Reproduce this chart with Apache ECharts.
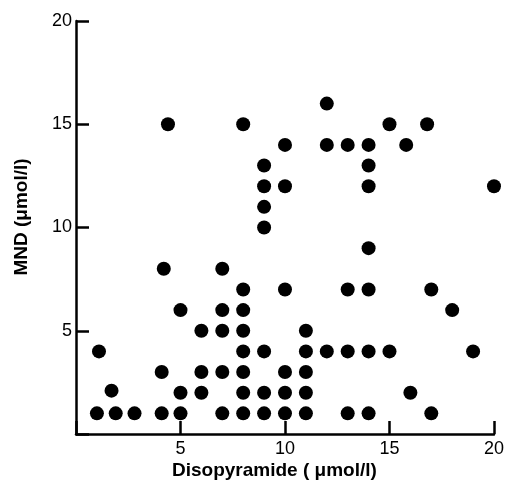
<!DOCTYPE html>
<html>
<head>
<meta charset="utf-8">
<script src="https://cdn.jsdelivr.net/npm/echarts@6/dist/echarts.min.js"></script>
<style>html,body{margin:0;padding:0;background:#fff}#c{width:507px;height:482px}</style>
</head>
<body>
<div id="c"></div>
<script>
// Disopyramide (x, µmol/l) values
const disopyramide = [4.4, 8, 12, 15, 16.8, 10, 12, 13, 14, 15.8, 9, 14, 9, 10, 14, 20, 9, 9, 14, 4.2, 7, 8, 10, 13, 14, 17, 5, 7, 8, 18, 6, 7, 8, 11, 1.1, 8, 9, 11, 12, 13, 14, 15, 19, 4.1, 6, 7, 8, 10, 11, 1.7, 5, 6, 8, 9, 10, 11, 16, 1, 1.9, 2.8, 4.1, 5, 7, 8, 9, 10, 11, 13, 14, 17];
// MND (y, µmol/l) values
const mnd = [15, 15, 16, 15, 15, 14, 14, 14, 14, 14, 13, 13, 12, 12, 12, 12, 11, 10, 9, 8, 8, 7, 7, 7, 7, 7, 6, 6, 6, 6, 5, 5, 5, 5, 4, 4, 4, 4, 4, 4, 4, 4, 4, 3, 3, 3, 3, 3, 3, 2.1, 2, 2, 2, 2, 2, 2, 2, 1, 1, 1, 1, 1, 1, 1, 1, 1, 1, 1, 1, 1];
const xTicks = [5, 10, 15, 20];
const yTicks = [5, 10, 15, 20];
const xTitle = 'Disopyramide ( \u03bcmol/l)';
const yTitle = 'MND (\u03bcmol/l)';

const points = disopyramide.map((x, i) => [x, mnd[i]]);
const chart = echarts.init(document.getElementById('c'));
const font = 'Liberation Sans, Arial, sans-serif';
const axisCommon = {
  type: 'value', min: 0, max: 20, interval: 5,
  splitLine: {show: false},
  axisLine: {show: true, onZero: false, lineStyle: {color: '#000', width: 2.5}},
  axisTick: {show: true, inside: true, length: 13, lineStyle: {color: '#000', width: 2.5}},
};
chart.setOption({
  animation: false,
  grid: {left: 76, right: 11, top: 21, bottom: 48},
  xAxis: Object.assign({}, axisCommon, {
    axisLabel: {color: '#000', fontFamily: font, fontSize: 18, margin: 6,
      formatter: v => xTicks.includes(v) ? String(v) : ''}
  }),
  yAxis: Object.assign({}, axisCommon, {
    axisLabel: {color: '#000', fontFamily: font, fontSize: 18, margin: 4,
      formatter: v => yTicks.includes(v) ? String(v) : ''}
  }),
  graphic: [
    {type: 'text', left: 172, top: 461, style: {text: xTitle, fill: '#000', font: 'bold 19px ' + font}},
    {type: 'text', x: 22, y: 217, rotation: Math.PI / 2, style: {text: yTitle, fill: '#000', font: 'bold 19px ' + font, align: 'center', verticalAlign: 'middle'}}
  ],
  series: [{
    type: 'scatter', data: points, symbol: 'circle', symbolSize: 14,
    itemStyle: {color: '#000', opacity: 1}
  }]
});
</script>
</body>
</html>
